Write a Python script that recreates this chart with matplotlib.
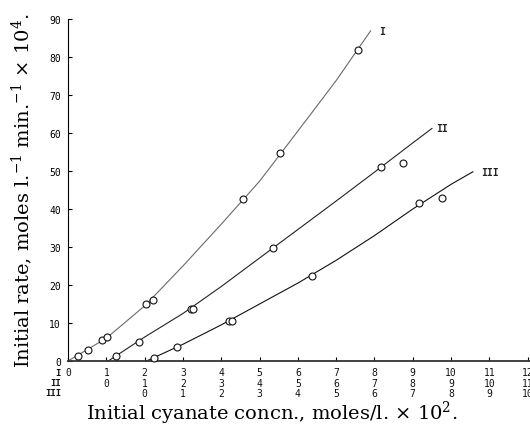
import matplotlib
matplotlib.use('Agg')
import matplotlib.pyplot as plt

plt.rcParams['mathtext.fontset'] = 'dejavuserif'

# ---- data (x in each series' own concentration scale, moles/l x 10^2) ----
series_names = ['I', 'II', 'III']
x_offsets = [0, 1, 2]          # series II axis shifted by 1, III by 2

x_I = [0.27, 0.53, 0.88, 1.01, 2.04, 2.21, 4.58, 5.54, 7.58]
y_I = [1.4, 2.9, 5.4, 6.3, 15.1, 16.1, 42.6, 54.7, 81.9]
x_II = [0.25, 0.86, 2.20, 2.27, 4.34, 7.17, 7.74]
y_II = [1.4, 5.1, 13.8, 13.7, 29.7, 51.1, 52.2]
x_III = [0.25, 0.85, 2.21, 2.29, 4.36, 7.16, 7.76]
y_III = [0.8, 3.6, 10.6, 10.4, 22.3, 41.6, 42.8]

# drawn curves through the points
cx_I = [0.0, 1, 2, 3, 4, 5, 6, 7, 7.9]
cy_I = [0.0, 6.0, 14.5, 25.0, 36.0, 47.3, 60.5, 73.8, 86.9]
cx_II = [0.05, 1, 2, 3, 4, 5, 6, 7, 8, 8.5]
cy_II = [0.0, 6.3, 12.5, 19.6, 27.1, 34.6, 42.1, 49.7, 57.4, 61.2]
cx_III = [0.05, 1, 2, 3, 4, 5, 6, 7, 8, 8.57]
cy_III = [0.0, 4.4, 9.5, 15.0, 20.5, 26.5, 33.0, 40.0, 46.5, 49.8]

x_ticks_I = list(range(0, 13))
y_ticks = [0, 10, 20, 30, 40, 50, 60, 70, 80, 90]

points = [(x_I, y_I), (x_II, y_II), (x_III, y_III)]
curves = [(cx_I, cy_I), (cx_II, cy_II), (cx_III, cy_III)]
curve_colors = ['#6a6a6a', '#222222', '#111111']
label_offsets = [(6, 0), (3, 0), (6, 0)]

fig = plt.figure(figsize=(5.3, 4.35), dpi=100)
ax = fig.add_axes([0.1283, 0.1678, 0.8717, 0.7862])

for (cx, cy), (px, py), off, col, name, loff in zip(
        curves, points, x_offsets, curve_colors, series_names, label_offsets):
    ax.plot([v + off for v in cx], cy, color=col, lw=0.8, clip_on=False)
    ax.plot([v + off for v in px], py, linestyle='none', marker='o', ms=5,
            mfc='white', mec='#111111', mew=0.8, clip_on=False, zorder=3)
    ax.annotate(name, xy=(cx[-1] + off, cy[-1]), xytext=loff,
                textcoords='offset points', ha='left', va='center',
                fontsize=7, fontweight='bold', family='DejaVu Sans Mono',
                color='#222222')

ax.set_xlim(0, 12.06)
ax.set_ylim(0, 90)

for s in ['top', 'right']:
    ax.spines[s].set_visible(False)
ax.spines['left'].set_linewidth(0.8)
ax.spines['bottom'].set_linewidth(1.3)
ax.spines['bottom'].set_color('#333333')

ax.set_yticks(y_ticks)
ax.set_yticklabels([str(v) for v in y_ticks], family='DejaVu Sans Mono', fontsize=7)
ax.tick_params(axis='y', direction='in', length=3, width=0.8, pad=5)

ax.set_xticks(x_ticks_I)
ax.set_xticklabels([])
ax.tick_params(axis='x', direction='in', length=3, width=0.8)

# three rows of x tick labels, one per series
row_offsets = [-8, -15.5, -23]
trans = ax.get_xaxis_transform()
for off, row_y, name in zip(x_offsets, row_offsets, series_names):
    for t in x_ticks_I:
        v = t - off
        if v < 0:
            continue
        ax.annotate(str(v), xy=(t, 0), xycoords=trans, xytext=(0, row_y),
                    textcoords='offset points', ha='center', va='center',
                    fontsize=7, family='DejaVu Sans Mono', color='#111111',
                    annotation_clip=False)
    ax.annotate(name, xy=(0, 0), xycoords=trans, xytext=(-5, row_y),
                textcoords='offset points', ha='right', va='center',
                fontsize=6.5, fontweight='bold', family='DejaVu Sans Mono',
                color='#111111', annotation_clip=False)

fig.text(0.513, 0.05, r'Initial cyanate concn., moles/l. $\times$ 10$^2$.',
         ha='center', va='center', fontsize=14, family='DejaVu Serif')
fig.text(0.042, 0.561, r'Initial rate, moles l.$^{-1}$ min.$^{-1}$ $\times$ 10$^4$.',
         ha='center', va='center', rotation=90, fontsize=14,
         family='DejaVu Serif')

fig.savefig('out.png', dpi=100)
